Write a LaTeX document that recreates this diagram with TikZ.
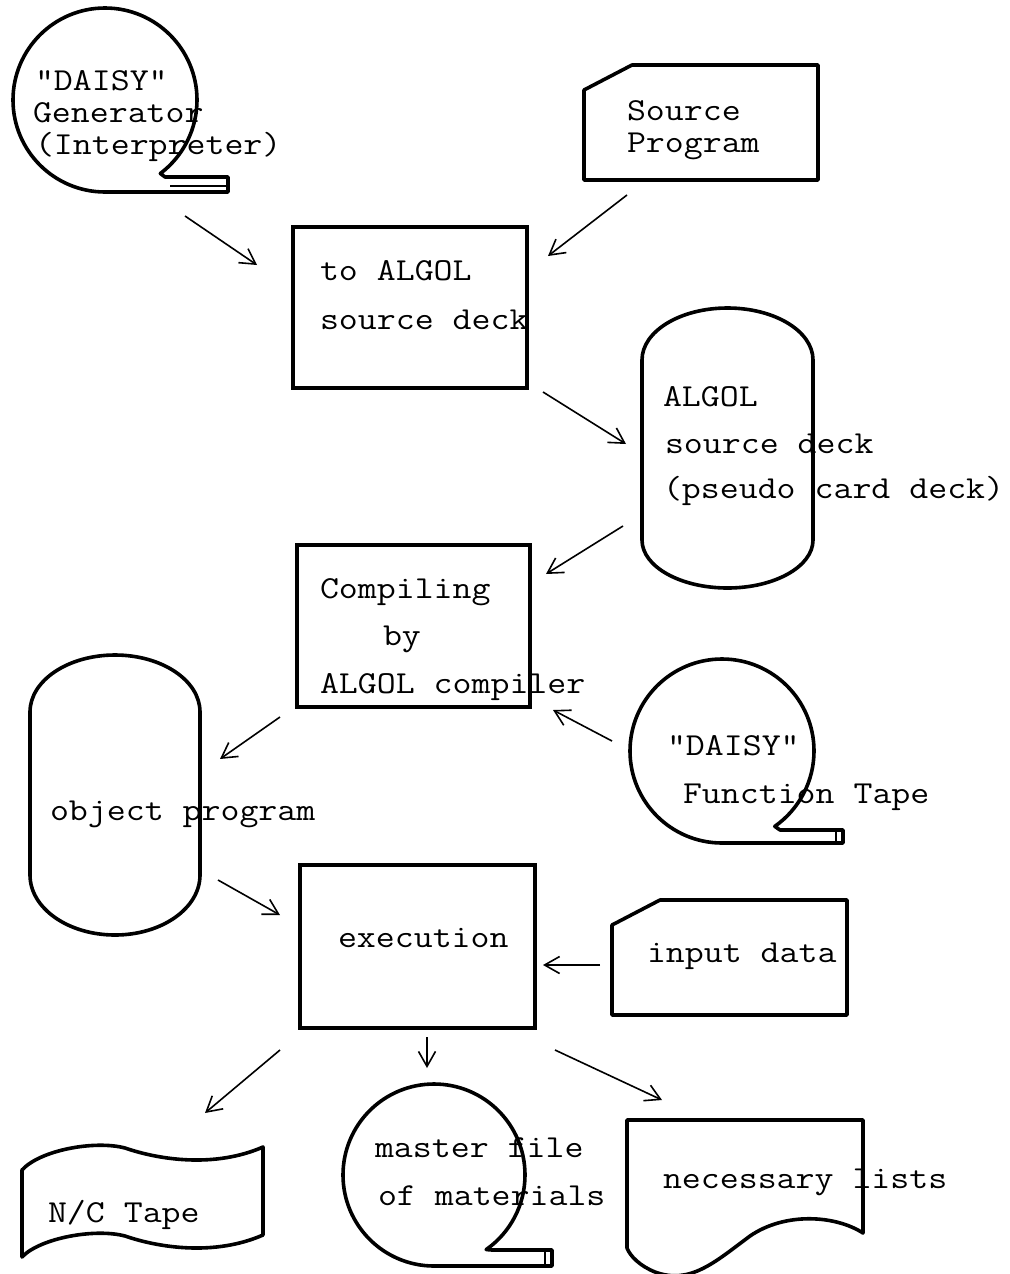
\documentclass[tikz,border=0pt]{standalone}
\usepackage{graphicx}
\usetikzlibrary{arrows.meta}
\newcommand\tw[1]{\scalebox{1.15}[1]{\fontsize{16pt}{19pt}\selectfont\ttfamily #1}}
\tikzset{
  shapeline/.style={line width=1.8pt, line join=round},
  procbox/.style={draw, line width=1.8pt, inner sep=0pt},
  arr/.style={-{Straight Barb[length=7.5pt,width=8.5pt]}, line width=0.8pt},
  lbl/.style={anchor=base west, inner sep=0pt, outer sep=0pt},
}
\begin{document}
\begin{tikzpicture}[x=0.5pt,y=-0.5pt]
\useasboundingbox (0,0) rectangle (1010,1274);

% ---- tape reel 1: DAISY Generator
\draw[shapeline] (105,192) arc[start angle=90, end angle=413, radius=92]
  -- (165,177) -- (228,177) -- (228,192) -- cycle;
\draw[line width=0.8pt] (170,186) -- (228,186);
\node[lbl] (g1) at (35,90) {\tw{"DAISY"}};
\node[lbl] (g2) at (33,122) {\tw{Generator}};
\node[lbl] (g3) at (35,154) {\tw{(Interpreter)}};

% ---- card: Source Program
\draw[shapeline] (584,90) -- (632,65) -- (818,65) -- (818,180) -- (584,180) -- cycle;
\node[lbl] (s1) at (627,120) {\tw{Source}};
\node[lbl] (s2) at (627,152) {\tw{Program}};

% ---- process box 1
\node[procbox, minimum width=117pt, minimum height=80.5pt] (conv) at (410,307.5) {};
\node[lbl] (c1) at (320,280) {\tw{to ALGOL}};
\node[lbl] (c2) at (320,329) {\tw{source deck}};

% ---- ALGOL source deck (stadium)
\draw[shapeline] (642,360) arc[start angle=180, end angle=360, x radius=85.5, y radius=52]
  -- (813,540) arc[start angle=0, end angle=180, x radius=85.5, y radius=48] -- cycle;
\node[lbl] (d1) at (663,406) {\tw{ALGOL}};
\node[lbl] (d2) at (665,453) {\tw{source deck}};
\node[lbl] (d3) at (663,498) {\tw{(pseudo card deck)}};

% ---- process box 2
\node[procbox, minimum width=116.5pt, minimum height=81pt] (comp) at (413.5,626) {};
\node[lbl] (p1) at (320,598) {\tw{Compiling}};
\node[lbl] (p2) at (383,645) {\tw{by}};
\node[lbl] (p3) at (320,693) {\tw{ALGOL compiler}};

% ---- object program (stadium)
\draw[shapeline] (30,712) arc[start angle=180, end angle=360, x radius=85, y radius=57]
  -- (200,875) arc[start angle=0, end angle=180, x radius=85, y radius=60] -- cycle;
\node[lbl] (o1) at (50,820) {\tw{object program}};

% ---- tape reel 2: DAISY Function Tape
\draw[shapeline] (722,843) arc[start angle=90, end angle=415, radius=92]
  -- (780,830) -- (843,830) -- (843,843) -- cycle;
\draw[line width=0.8pt] (836,830) -- (836,843);
\node[lbl] (f1) at (667,755) {\tw{"DAISY"}};
\node[lbl] (f2) at (683,803) {\tw{Function Tape}};

% ---- process box 3
\node[procbox, minimum width=117.5pt, minimum height=81.5pt] (exec) at (417.5,946.5) {};
\node[lbl] (e1) at (338,947) {\tw{execution}};

% ---- card: input data
\draw[shapeline] (612,925) -- (660,900) -- (847,900) -- (847,1015) -- (612,1015) -- cycle;
\node[lbl] (i1) at (647,962) {\tw{input data}};

% ---- punched tape: N/C Tape
\draw[shapeline] (22,1170) .. controls (40,1150) and (95,1140) .. (125,1148)
  .. controls (160,1160) and (215,1168) .. (263,1147) -- (263,1235)
  .. controls (215,1256) and (160,1248) .. (125,1236)
  .. controls (95,1228) and (40,1238) .. (22,1257) -- cycle;
\node[lbl] (n1) at (48,1222) {\tw{N/C Tape}};

% ---- tape reel 3: master file
\draw[shapeline] (434,1266) arc[start angle=90, end angle=415, radius=91]
  -- (492,1250) -- (552,1250) -- (552,1266) -- cycle;
\draw[line width=0.8pt] (545,1250) -- (545,1266);
\node[lbl] (m1) at (375,1157) {\tw{master file}};
\node[lbl] (m2) at (378,1205) {\tw{of materials}};

% ---- document: necessary lists
\draw[shapeline] (627,1120) -- (863,1120) -- (863,1233)
  .. controls (835,1215) and (785,1212) .. (750,1236)
  .. controls (715,1262) and (690,1285) .. (655,1272)
  .. controls (640,1266) and (630,1256) .. (627,1248) -- cycle;
\node[lbl] (l1) at (663,1188) {\tw{necessary lists}};

% ---- connectors
\coordinate (a1s) at (185,216); \coordinate (a1e) at (257,265);
\coordinate (a2s) at (627,195); \coordinate (a2e) at (548,256);
\coordinate (a3s) at (543,392); \coordinate (a3e) at (626,444);
\coordinate (a4s) at (623,526); \coordinate (a4e) at (546,574);
\coordinate (a5s) at (280,717); \coordinate (a5e) at (220,759);
\coordinate (a6s) at (612,741); \coordinate (a6e) at (553,710);
\coordinate (a7s) at (218,880); \coordinate (a7e) at (280,915);
\coordinate (a8s) at (600,965); \coordinate (a8e) at (543,965);
\coordinate (a9s) at (280,1050); \coordinate (a9e) at (205,1113);
\coordinate (a10s) at (427,1037); \coordinate (a10e) at (427,1068);
\coordinate (a11s) at (555,1050); \coordinate (a11e) at (662,1100);
\foreach \k in {1,...,11} { \draw[arr] (a\k s) -- (a\k e); }
\end{tikzpicture}
\end{document}
